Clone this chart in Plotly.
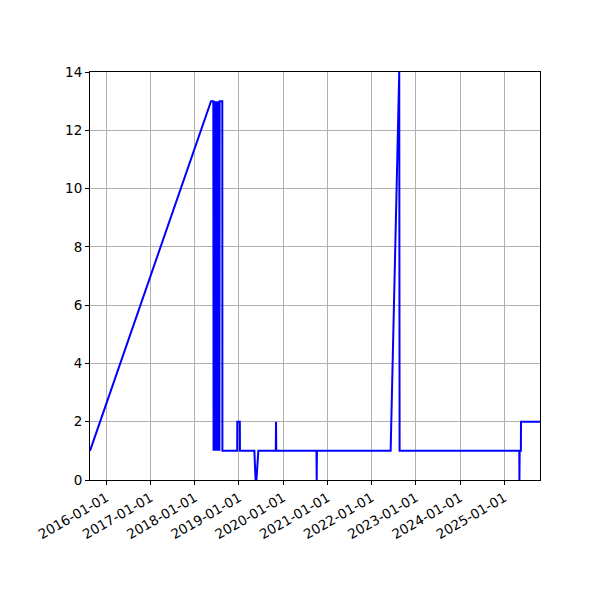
import plotly.graph_objects as go

# === DATOS ===
dates = [
    '2015-08-19', '2018-05-15', '2018-06-03',
    '2018-06-05', '2018-06-07', '2018-06-09', '2018-06-11', '2018-06-13',
    '2018-06-15', '2018-06-17', '2018-06-19', '2018-06-21', '2018-06-23',
    '2018-06-25', '2018-06-27', '2018-06-29', '2018-07-01', '2018-07-03',
    '2018-07-05', '2018-07-07', '2018-07-09', '2018-07-11', '2018-07-13',
    '2018-07-15', '2018-07-17', '2018-07-19', '2018-07-21', '2018-07-23',
    '2018-07-25', '2018-07-27',
    '2018-08-16', '2018-08-17',
    '2018-12-17', '2018-12-18', '2019-01-08', '2019-01-09',
    '2019-05-08', '2019-05-18', '2019-05-25', '2019-06-10',
    '2019-11-01', '2019-11-03', '2019-11-05',
    '2020-10-02', '2020-10-04', '2020-10-06',
    '2022-06-07', '2022-08-17', '2022-08-20',
    '2025-05-05', '2025-05-06', '2025-05-08',
    '2025-05-18', '2025-05-19', '2025-10-23',
]
values = [
    1, 13, 13,
    1, 13, 1, 13, 1,
    13, 1, 13, 1, 13,
    1, 13, 1, 13, 1,
    13, 1, 13, 1, 13,
    1, 13, 1, 13, 1,
    13, 13,
    13, 1,
    1, 2, 2, 1,
    1, 0, 0, 1,
    1, 2, 1,
    1, 0, 1,
    1, 14, 1,
    1, 0, 1,
    1, 2, 2,
]

y_ticks = [0, 2, 4, 6, 8, 10, 12, 14]

fig = go.Figure()
fig.add_trace(go.Scatter(x=dates, y=values, mode='lines',
                         line=dict(color='#0000ff', width=2, simplify=False),
                         showlegend=False))

axis_style = dict(
    showline=True, linecolor='black', linewidth=1, mirror=True,
    showgrid=True, gridcolor='#b0b0b0', gridwidth=1,
    ticks='outside', ticklen=4, tickcolor='black',
    zeroline=False,
    tickfont=dict(family='DejaVu Sans', size=13.5, color='black'),
)

fig.update_xaxes(
    range=[dates[0], dates[-1]],
    tick0='2016-01-01', dtick='M12', tickformat='%Y-%m-%d',
    tickangle=-30,
    **axis_style
)
fig.update_yaxes(range=[0, 14], tickvals=y_ticks, **axis_style)

# la pagina tiene 8px de margen en el body
fig.update_layout(
    width=600, height=600,
    paper_bgcolor='white', plot_bgcolor='white',
    margin=dict(l=82, r=68, t=64, b=128),
)

fig.write_html("out.html")
